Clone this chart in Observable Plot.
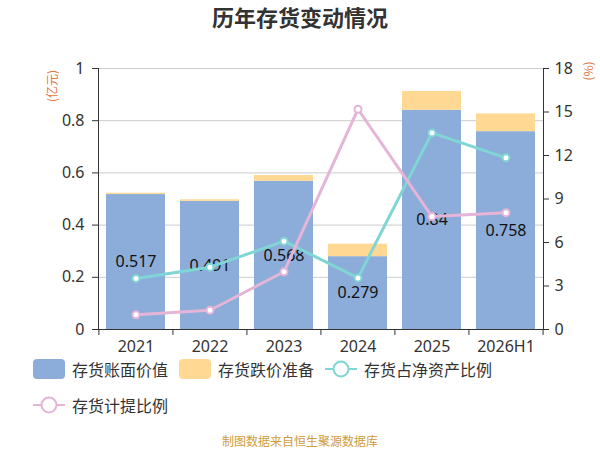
<!DOCTYPE html>
<html>
<head>
<meta charset="utf-8">
<script src="https://cdn.jsdelivr.net/npm/d3@7"></script>
<script src="https://cdn.jsdelivr.net/npm/@observablehq/plot@0.6"></script>
<style>
  html, body { margin: 0; padding: 0; background: #fff; }
  #wrap { position: relative; width: 600px; height: 450px; overflow: hidden; font-family: "Noto Sans", "Noto Sans CJK SC", sans-serif; color: #333; }
  #title { position: absolute; left: 0; width: 600px; top: 3px; text-align: center; font-size: 22px; font-weight: bold; font-family: "Noto Sans CJK SC", sans-serif; color: #333; line-height: 26px; }
  .layer { position: absolute; left: 0; top: 0; }
  .unit { position: absolute; font-size: 12px; color: #e0773f; font-family: "Noto Sans CJK SC", sans-serif; transform: rotate(-90deg); transform-origin: center; white-space: nowrap; line-height: 14px; }
  .leg { position: absolute; display: flex; align-items: center; height: 22px; font-size: 16px; font-family: "Noto Sans CJK SC", sans-serif; color: #333; white-space: nowrap; }
  .sw { width: 32px; height: 20px; border-radius: 4px; margin-right: 7px; }
  .leg svg { margin-right: 7px; }
  #foot { position: absolute; left: 0; width: 600px; top: 433px; text-align: center; font-size: 12px; color: #cf9c3a; font-family: "Noto Sans CJK SC", sans-serif; line-height: 16px; }
</style>
</head>
<body>
<div id="wrap">
  <div id="title">历年存货变动情况</div>
  <div id="chart"></div>
  <div id="legend"></div>
  <div id="foot">制图数据来自恒生聚源数据库</div>
</div>
<script>
// ---- data ----
const years = ["2021", "2022", "2023", "2024", "2025", "2026H1"];
const bookValue = [0.517, 0.491, 0.568, 0.279, 0.84, 0.758];
const provision = [0.005, 0.006, 0.022, 0.048, 0.072, 0.068];
const bookLabels = ["0.517", "0.491", "0.568", "0.279", "0.84", "0.758"];
const netAssetRatio = [3.52, 4.30, 6.09, 3.56, 13.56, 11.84];
const provisionRatio = [1.01, 1.33, 3.98, 15.19, 7.79, 8.05];
const leftTicks = [0, 0.2, 0.4, 0.6, 0.8, 1];
const rightTicks = [0, 3, 6, 9, 12, 15, 18];
const barSeries = ["存货账面价值", "存货跌价准备"];
const lineSeries = ["存货占净资产比例", "存货计提比例"];
const barColors = ["#8cacd9", "#ffd994"];
const lineColors = ["#80d5d5", "#e5b5d7"];

// ---- tables ----
const barRows = [];
years.forEach((y, i) => {
  barRows.push({year: y, series: barSeries[0], value: bookValue[i]});
  barRows.push({year: y, series: barSeries[1], value: provision[i]});
});
const labelRows = years.map((y, i) => ({year: y, value: bookValue[i], label: bookLabels[i]}));
const lineRows = [];
years.forEach((y, i) => lineRows.push({year: y, series: lineSeries[0], value: netAssetRatio[i]}));
years.forEach((y, i) => lineRows.push({year: y, series: lineSeries[1], value: provisionRatio[i]}));

// ---- layout ----
const W = 600, H = 360, mt = 68, mb = 31, ml = 98, mr = 57;
const paddingInner = 0.2, paddingOuter = 0.1;
const step = (W - ml - mr) / (years.length - paddingInner + 2 * paddingOuter);
const font = '"Noto Sans", "Noto Sans CJK SC", sans-serif';
const common = {
  width: W, height: H, marginTop: mt, marginBottom: mb, marginLeft: ml, marginRight: mr,
  style: {fontFamily: font, fontSize: "16px", color: "#333", background: "transparent", overflow: "visible"}
};
const xOpt = {type: "band", domain: years, paddingInner, paddingOuter, axis: null};
const frameH = H - mt - mb;

const barPlot = Plot.plot({
  ...common,
  x: xOpt,
  y: {domain: [0, 1], axis: null},
  color: {domain: barSeries, range: barColors},
  marks: [
    Plot.gridY(leftTicks.slice(1), {stroke: "#cccccc", strokeOpacity: 1}),
    Plot.barY(barRows, {x: "year", y: "value", fill: "series", order: barSeries}),
    Plot.text(labelRows, {x: "year", y: d => d.value / 2, text: "label", fill: "#111", fontSize: 16}),
    Plot.ruleY([0], {stroke: "#333"}),
    Plot.frame({anchor: "left", stroke: "#333"}),
    Plot.axisY(leftTicks, {anchor: "left", label: null, tickSize: 6, tickPadding: 8, tickFormat: d => String(d), fontSize: 16, stroke: "#333"}),
    Plot.axisX({anchor: "bottom", label: null, tickSize: 0, tickPadding: 11, fontSize: 16}),
    Plot.ruleX(years, {x: d => d, dx: -step / 2, insetTop: frameH, insetBottom: -6, stroke: "#333"}),
    Plot.ruleX(years.slice(-1), {x: d => d, dx: step / 2, insetTop: frameH, insetBottom: -6, stroke: "#333"})
  ]
});
barPlot.classList.add("layer");

const linePlot = Plot.plot({
  ...common,
  x: xOpt,
  y: {domain: [0, 18], axis: null},
  color: {domain: lineSeries, range: lineColors},
  marks: [
    Plot.frame({anchor: "right", stroke: "#333"}),
    Plot.axisY(rightTicks, {anchor: "right", label: null, tickSize: 5, tickPadding: 6, fontSize: 16, stroke: "#333"}),
    Plot.line(lineRows, {x: "year", y: "value", stroke: "series", strokeWidth: 3, z: "series"}),
    Plot.dot(lineRows, {x: "year", y: "value", stroke: "series", fill: "white", r: 3.5, strokeWidth: 2})
  ]
});
linePlot.classList.add("layer");

const chart = document.getElementById("chart");
chart.appendChild(barPlot);
chart.appendChild(linePlot);

// units
const u1 = document.createElement("div");
u1.className = "unit"; u1.textContent = "(亿元)";
u1.style.left = "36px"; u1.style.top = "79px";
chart.appendChild(u1);
const u2 = document.createElement("div");
u2.className = "unit"; u2.textContent = "(%)";
u2.style.left = "578px"; u2.style.top = "64px";
chart.appendChild(u2);

// legend
const legend = document.getElementById("legend");
const legItems = [
  {name: barSeries[0], color: barColors[0], kind: "rect", left: 33, top: 358},
  {name: barSeries[1], color: barColors[1], kind: "rect", left: 179, top: 358},
  {name: lineSeries[0], color: lineColors[0], kind: "line", left: 325, top: 358},
  {name: lineSeries[1], color: lineColors[1], kind: "line", left: 33, top: 394}
];
legItems.forEach(it => {
  const d = document.createElement("div");
  d.className = "leg";
  d.style.left = it.left + "px";
  d.style.top = it.top + "px";
  if (it.kind === "rect") {
    const s = document.createElement("div");
    s.className = "sw"; s.style.background = it.color;
    d.appendChild(s);
  } else {
    const ns = "http://www.w3.org/2000/svg";
    const svg = document.createElementNS(ns, "svg");
    svg.setAttribute("width", 32); svg.setAttribute("height", 20);
    const ln = document.createElementNS(ns, "line");
    ln.setAttribute("x1", 0); ln.setAttribute("x2", 32); ln.setAttribute("y1", 10); ln.setAttribute("y2", 10);
    ln.setAttribute("stroke", it.color); ln.setAttribute("stroke-width", 2);
    const c = document.createElementNS(ns, "circle");
    c.setAttribute("cx", 16); c.setAttribute("cy", 10); c.setAttribute("r", 7.5);
    c.setAttribute("fill", "white"); c.setAttribute("stroke", it.color); c.setAttribute("stroke-width", 2);
    svg.appendChild(ln); svg.appendChild(c);
    d.appendChild(svg);
  }
  const t = document.createElement("span");
  t.textContent = it.name;
  d.appendChild(t);
  legend.appendChild(d);
});
</script>
</body>
</html>
